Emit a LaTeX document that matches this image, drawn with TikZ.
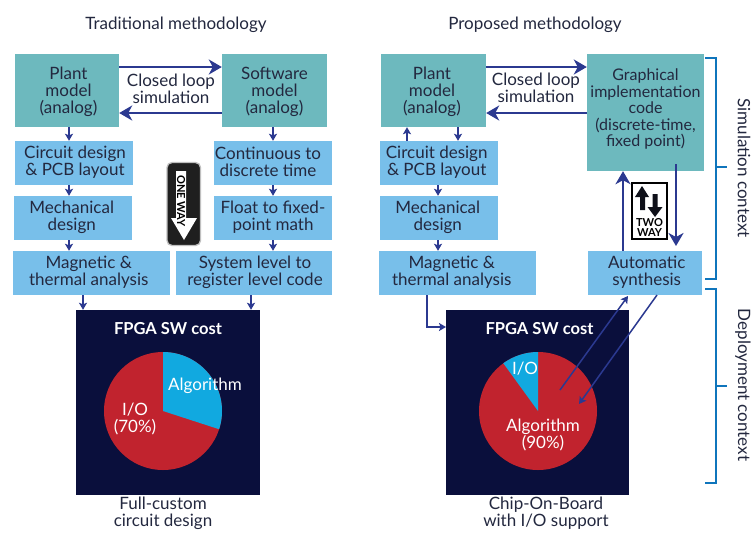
\documentclass[tikz,border=0pt]{standalone}
\usepackage{fontspec}
\setmainfont{Lato}
\usetikzlibrary{arrows.meta,calc}
\definecolor{teal}{HTML}{6DB9BE}
\definecolor{skyb}{HTML}{78BFEA}
\definecolor{navy}{HTML}{2B3990}
\definecolor{ink}{HTML}{23283F}
\definecolor{fpga}{HTML}{0A0F3C}
\definecolor{pired}{HTML}{C1232E}
\definecolor{picyan}{HTML}{11A9E0}
\definecolor{brk}{HTML}{0F75BC}
\newcommand\lines[2][-4pt]{\makebox[0pt]{\raisebox{#1}[0pt][0pt]{\parbox{220pt}{\lineskiplimit=-8pt\centering #2}}}}
\newcommand\nudge[2]{\makebox[0pt][l]{\hspace*{#1}#2}}
\tikzset{
  x=1pt,y=-1pt,
  txt/.style={font=\fontsize{17}{17}\selectfont,text=ink,align=center,inner sep=0pt},
  wtxt/.style={font=\fontsize{17}{17}\selectfont,text=white,align=center,inner sep=0pt},
  wbold/.style={font=\fontsize{16.5}{17}\selectfont\bfseries,text=white,inner sep=0pt},
  greenbox/.style={txt,fill=teal,minimum width=#1},
  bluebox/.style={txt,fill=skyb,minimum width=#1,minimum height=44pt},
  bigarrow/.style={draw=navy,line width=2.6pt,-{Stealth[length=13pt,width=15pt,inset=4pt]}},
  smallarrow/.style={draw=navy,line width=2.4pt,-{Stealth[length=7pt,width=8pt,inset=1.5pt]}},
  thinarrow/.style={draw=navy,line width=1.5pt,-{Stealth[length=7pt,width=8pt,inset=1.5pt]}},
  bracket/.style={draw=brk,line width=2.6pt},
  panel/.style={fill=fpga,minimum width=#1,minimum height=185pt,inner sep=0pt},
}
\begin{document}
\begin{tikzpicture}
\useasboundingbox (0,0) rectangle (755,542);
\fill[white] (0,0) rectangle (755,542);

% titles
\node[txt] (t1) at (176,25) {Traditional methodology};
\node[txt] (t2) at (535,25) {Proposed methodology};

% ---- left column
\node[greenbox=104pt,minimum height=73pt] (plantL) at (67,90.5) {\nudge{1.5pt}{\lines[-6pt]{Plant\\model\\(analog)}}};
\node[greenbox=105pt,minimum height=73pt] (softL) at (274.5,90.5) {\lines[-6pt]{Software\\model\\(analog)}};
\node[bluebox=118pt] (circL) at (74,163) {\nudge{1pt}{\lines[-3.2pt]{Circuit design\\\& PCB layout}}};
\node[bluebox=118pt] (mechL) at (73,218) {\nudge{-1.3pt}{\lines[-3.2pt]{Mechanical\\design}}};
\node[bluebox=157pt] (magL) at (91.5,273) {\nudge{-2.7pt}{\lines[-3.2pt]{Magnetic \&\\thermal analysis}}};
\node[bluebox=118pt] (contL) at (273,163) {\nudge{-5pt}{\lines[-3.2pt]{Continuous to\\discrete time}}};
\node[bluebox=118pt] (floatL) at (273,218) {\lines[-3.2pt]{Float to fixed-\\point math}};
\node[bluebox=156pt] (sysL) at (254,273) {\nudge{1pt}{\lines[-3.2pt]{System level to\\register level code}}};
\node[panel=184pt] (fpgaL) at (168,402.5) {};
\node[txt] (loopL) at (171,89) {\lines{Closed loop\\simulation}};

\draw[bigarrow] ([yshift=23.5pt]plantL.east) -- ([yshift=23.5pt]softL.west);
\draw[bigarrow] ([yshift=-22.5pt]softL.west) -- ([yshift=-22.5pt]plantL.east);
\draw[smallarrow] ([xshift=2pt]plantL.south) -- ([xshift=-5pt]circL.north);
\draw[smallarrow] ([xshift=-5pt]circL.south) -- ([xshift=-4pt]mechL.north);
\draw[smallarrow] ([xshift=-4pt]mechL.south) -- ([xshift=-22.5pt]magL.north);
\draw[smallarrow] (softL.south -| contL.north) -- (contL.north);
\draw[smallarrow] (contL.south) -- (floatL.north);
\draw[smallarrow] (floatL.south) -- ([xshift=19pt]sysL.north);
\draw[smallarrow] ([xshift=-8.5pt]magL.south) -- ([xshift=-8.5pt]magL.south |- fpgaL.north);
\draw[smallarrow] ([xshift=-3pt]sysL.south) -- ([xshift=-3pt]sysL.south |- fpgaL.north);

% pie left
\coordinate (pieL) at (163,411);
\fill[pired] (pieL) circle (59pt);
\fill[picyan] (pieL) -- (163,352) arc[start angle=90,end angle=-18,radius=59pt] -- cycle;
\node[wbold] (costL) at (168,329) {FPGA SW cost};
\node[wtxt] (algL) at (205,386) {Algorithm};
\node[wtxt] (ioL) at (135,419) {\lines{I/O\\(70\%)}};
\node[txt] (capL) at (163,513.5) {\lines{Full-custom\\circuit design}};

% one way sign
\draw[draw=black!25,fill=black!88,line width=1.3pt,rounded corners=5pt] (167,162.5) rectangle (200.5,245.5);
\fill[white] (176,171) -- (186,171) -- (186,218) -- (197,218) -- (184,240) -- (171,218) -- (176,218) -- cycle;
\node[inner sep=0pt,rotate=-90,font=\fontsize{11}{11}\selectfont\bfseries,text=black] (oneway) at (181,201) {ONE WAY};

% ---- right column
\node[greenbox=105pt,minimum height=73pt] (plantR) at (433.5,90.5) {\nudge{-1.5pt}{\lines[-6pt]{Plant\\model\\(analog)}}};
\node[greenbox=117pt,minimum height=117pt,font=\fontsize{16}{16.5}\selectfont] (graph) at (645.5,112.5) {\lines[-1pt]{Graphical\\implementation\\code\\(discrete-time,\\fixed point)}};
\node[bluebox=118pt] (circR) at (439,163) {\nudge{-2.3pt}{\lines[-3.2pt]{Circuit design\\\& PCB layout}}};
\node[bluebox=118pt] (mechR) at (439,218) {\nudge{-1.2pt}{\lines[-3.2pt]{Mechanical\\design}}};
\node[bluebox=157pt] (magR) at (457.5,273) {\nudge{-5.7pt}{\lines[-3.2pt]{Magnetic \&\\thermal analysis}}};
\node[bluebox=114pt] (auto) at (645,273) {\nudge{1.7pt}{\lines[-3.2pt]{Automatic\\synthesis}}};
\node[panel=183pt] (fpgaR) at (537.5,402.5) {};
\node[txt] (loopR) at (536,88.5) {\lines{Closed loop\\simulation}};

\draw[bigarrow] ([yshift=23.5pt]plantR.east) -- ([yshift=45.5pt]graph.west);
\draw[bigarrow] ([yshift=-0.5pt]graph.west) -- ([yshift=-22.5pt]plantR.east);
\draw[smallarrow] ([xshift=-26.5pt]plantR.south |- circR.north) -- ([xshift=-26.5pt]plantR.south);
\draw[smallarrow] ([xshift=24.5pt]plantR.south) -- ([xshift=24.5pt]plantR.south |- circR.north);
\draw[smallarrow] ([xshift=-1pt]circR.south) -- ([xshift=-1pt]mechR.north);
\draw[smallarrow] ([xshift=-1pt]mechR.south) -- ([xshift=-1pt]mechR.south |- magR.north);
\draw[bigarrow] ([xshift=-22pt]auto.north) -- ([xshift=-22.5pt]graph.south);
\coordinate (downstart) at (676,164);
\coordinate (downend) at (676,246);
\draw[bigarrow] (downstart) -- (downend);

% pie right
\coordinate (pieR) at (538,411);
\fill[pired] (pieR) circle (59pt);
\fill[picyan] (pieR) -- (538,352) arc[start angle=90,end angle=126,radius=59pt] -- cycle;
\node[wbold] (costR) at (539.5,329) {FPGA SW cost};
\node[wtxt] (ioR) at (525,369) {I/O};
\node[wtxt] (algR) at (543,435.5) {\lines{Algorithm\\(90\%)}};
\node[txt] (capR) at (546,514) {\lines{Chip-On-Board\\with I/O support}};

\coordinate (magout) at (427,295);
\coordinate (entry) at (446,327);
\draw[thinarrow] (magout) |- (entry);
\coordinate (upstart) at (560,390);
\coordinate (upend) at (628,296);
\coordinate (dnstart) at (657,295);
\coordinate (dnend) at (579,404);
\draw[thinarrow] (upstart) -- (upend);
\draw[thinarrow] (dnstart) -- (dnend);

% two way sign
\draw[black,line width=2.6pt,fill=white] (632,183) rectangle (667,239);
\fill[ink!40!black] (640,210) -- (640,197) -- (635,197) -- (642,186) -- (649,197) -- (645,197) -- (645,210) -- cycle;
\fill[ink!40!black] (652.5,194) -- (657.5,194) -- (657.5,207) -- (662.5,207) -- (655,217) -- (647.5,207) -- (652.5,207) -- cycle;
\node[inner sep=0pt,align=center,font=\fontsize{11}{10}\selectfont\bfseries,text=black] (twoway) at (649.5,227) {TWO\\WAY};

% brackets
\node[txt,rotate=-90] (simc) at (744,168) {Simulation context};
\node[txt,rotate=-90] (depc) at (743,385) {Deployment context};
\draw[bracket] (705,58) -- (716,58) -- (716,279) -- (705,279);
\draw[bracket] (716,167) -- (727,167);
\draw[bracket] (705,289) -- (716,289) -- (716,483) -- (705,483);
\draw[bracket] (716,386) -- (727,386);
\end{tikzpicture}
\end{document}
